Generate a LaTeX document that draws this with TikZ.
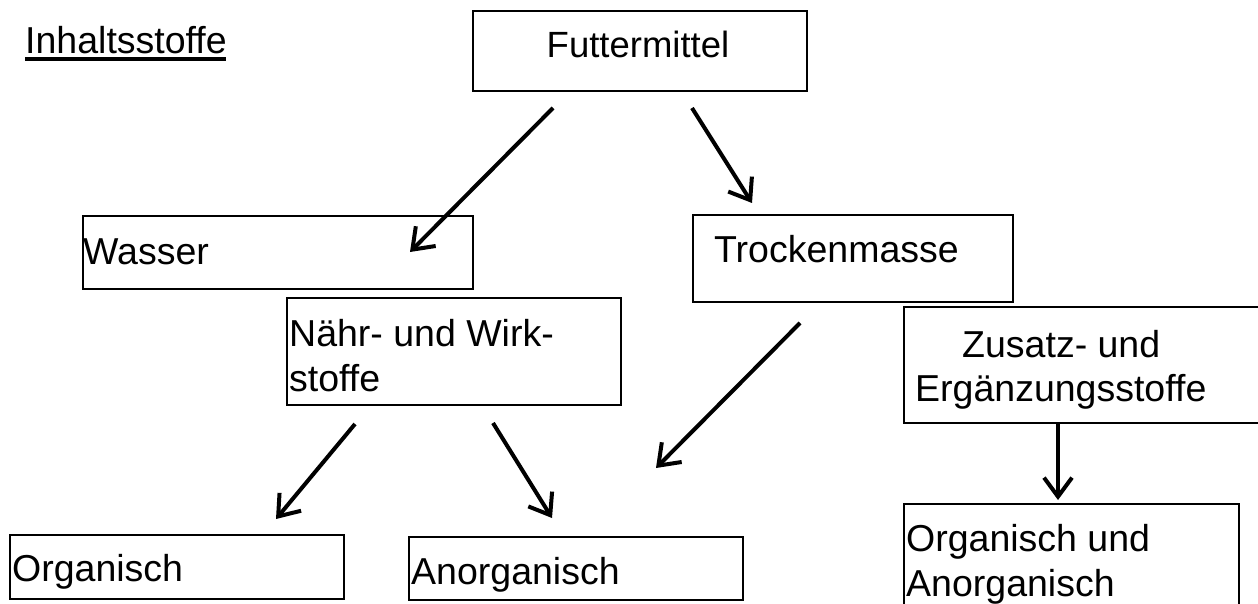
\documentclass[tikz,border=0pt]{standalone}
\usepackage{fontspec}
\setmainfont{Liberation Sans}
\usetikzlibrary{arrows.meta}
\tikzset{
  box/.style={draw=black, line width=2pt, inner sep=0pt, anchor=north west},
  txt/.style={inner sep=0pt, anchor=base west, font=\fontsize{37.5}{42}\selectfont},
  arr/.style={line width=4pt, -{Straight Barb[length=19pt, width=28pt, line width=4pt]}}
}
\begin{document}
\begin{tikzpicture}[x=1pt,y=-1pt]
\useasboundingbox (0,0) rectangle (1258,604);
\clip (0,0) rectangle (1258,604);
% boxes
\node[box, minimum width=334pt, minimum height=79.5pt] (futter) at (471.5,10.5) {};
\node[box, minimum width=390pt, minimum height=73pt] (wasser) at (81.5,215) {};
\node[box, minimum width=320.5pt, minimum height=87pt] (trocken) at (691.5,214) {};
\node[box, minimum width=334pt, minimum height=107pt] (naehr) at (286,297) {};
\node[box, minimum width=370pt, minimum height=116pt] (zusatz) at (903,306) {};
\node[box, minimum width=335pt, minimum height=120pt] (organorg) at (903,503) {};
\node[box, minimum width=334.3pt, minimum height=64pt] (org) at (8.7,534) {};
\node[box, minimum width=334pt, minimum height=63pt] (anorg) at (408,536) {};
% texts
\node[txt] (title) at (25,54) {Inhaltsstoffe};
\draw[line width=4pt] (25,59) -- (226,59);
\node[txt, anchor=base, font=\fontsize{36.5}{42}\selectfont] (futtertxt) at (638,58) {Futtermittel};
\node[txt] (wassertxt) at (83,264) {Wasser};
\node[txt] (trockentxt) at (714,262) {Trockenmasse};
\node[txt] (naehrtxtA) at (289,346) {Nähr- und Wirk-};
\node[txt] (naehrtxtB) at (289,391) {stoffe};
\node[txt] (zusatztxtA) at (962,357) {Zusatz- und};
\node[txt] (zusatztxtB) at (915,401) {Ergänzungsstoffe};
\node[txt] (organorgtxtA) at (906,551) {Organisch und};
\node[txt] (organorgtxtB) at (906,596) {Anorganisch};
\node[txt] (orgtxt) at (12,581) {Organisch};
\node[txt] (anorgtxt) at (411,584) {Anorganisch};
% arrow ends
\coordinate (a1s) at (553,108);  \coordinate (a1e) at (410,252);
\coordinate (a2s) at (692,108);  \coordinate (a2e) at (752,203);
\coordinate (a3s) at (800,323);  \coordinate (a3e) at (656,468);
\coordinate (a4s) at (355,424);  \coordinate (a4e) at (276,519);
\coordinate (a5s) at (493,423);  \coordinate (a5e) at (552,518);
\coordinate (a6s) at (1058,422); \coordinate (a6e) at (1058,500);
\draw[arr] (a1s) -- (a1e);
\draw[arr] (a2s) -- (a2e);
\draw[arr] (a3s) -- (a3e);
\draw[arr] (a4s) -- (a4e);
\draw[arr] (a5s) -- (a5e);
\draw[arr] (a6s) -- (a6e);
\end{tikzpicture}
\end{document}
